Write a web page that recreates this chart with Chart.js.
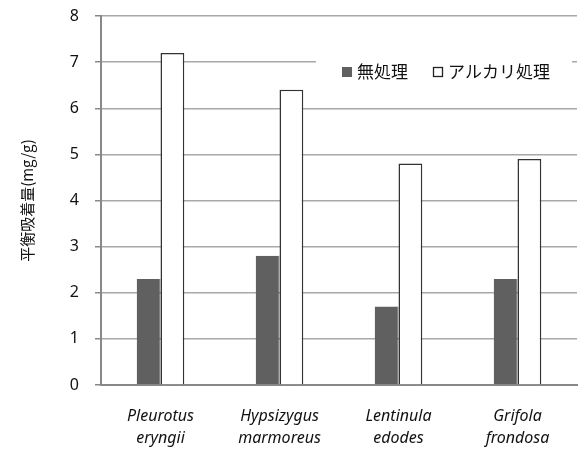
<!DOCTYPE html>
<html>
<head>
<meta charset="utf-8">
<script src="https://cdn.jsdelivr.net/npm/chart.js@4"></script>
<style>
  html, body { margin: 0; padding: 0; background: #fff; }
  #wrap { width: 578px; height: 449px; }
</style>
</head>
<body>
<div id="wrap"><canvas id="c" width="578" height="449"></canvas></div>
<script>
var categories = [
  ["Pleurotus", "eryngii"],
  ["Hypsizygus", "marmoreus"],
  ["Lentinula", "edodes"],
  ["Grifola", "frondosa"]
];
var seriesNames = ["無処理", "アルカリ処理"];
var untreated = [2.3, 2.8, 1.7, 2.3];
var alkali = [7.2, 6.4, 4.8, 4.9];
var yTicks = [0, 1, 2, 3, 4, 5, 6, 7, 8];

var fontFam = "'Noto Sans', 'Noto Sans CJK JP', sans-serif";

// 凡例（グラフ内に白背景で描く）
var innerLegend = {
  id: 'innerLegend',
  afterDraw: function(chart) {
    var ctx = chart.ctx;
    ctx.save();
    ctx.fillStyle = '#fff';
    ctx.fillRect(316, 50, 256, 42);
    ctx.font = "17px 'Noto Sans CJK JP', sans-serif";
    ctx.textBaseline = 'middle';
    var x = 342, y = 72;
    chart.data.datasets.forEach(function(ds, i) {
      ctx.fillStyle = ds.backgroundColor;
      ctx.fillRect(x, y - 5, 10, 10);
      if (ds.backgroundColor === '#ffffff') {
        ctx.strokeStyle = '#222';
        ctx.lineWidth = 1.3;
        ctx.strokeRect(x + 0.5, y - 4.5, 9, 9);
      }
      ctx.fillStyle = '#111';
      ctx.fillText(ds.label, x + 15, y);
      x += 15 + ctx.measureText(ds.label).width + 25;
    });
    ctx.restore();
  }
};

new Chart(document.getElementById('c'), {
  type: 'bar',
  data: {
    labels: categories,
    datasets: [{
      label: seriesNames[0],
      data: untreated,
      backgroundColor: '#606060',
      borderColor: '#4a4a4a',
      borderWidth: { left: 0, right: 1, top: 0, bottom: 0 },
      borderSkipped: false
    }, {
      label: seriesNames[1],
      data: alkali,
      backgroundColor: '#ffffff',
      borderColor: '#333333',
      borderWidth: { left: 1.5, right: 1.5, top: 1.5, bottom: 0 },
      borderSkipped: false
    }]
  },
  options: {
    responsive: false,
    animation: false,
    devicePixelRatio: 1,
    layout: { padding: { top: 0, right: 1, left: 0, bottom: 0 } },
    categoryPercentage: 0.4,
    barPercentage: 1.0,
    plugins: {
      legend: { display: false },
      tooltip: { enabled: false }
    },
    scales: {
      x: {
        grid: { display: false, drawTicks: false },
        border: { color: '#888', width: 2 },
        ticks: {
          color: '#111',
          font: { family: fontFam, size: 16, style: 'italic', lineHeight: 1.4 },
          padding: 20,
          maxRotation: 0
        },
        afterFit: function(s) { s.height = 64; }
      },
      y: {
        min: 0,
        max: 8,
        afterBuildTicks: function(s) {
          s.ticks = yTicks.map(function(v) { return { value: v }; });
        },
        grid: { color: '#a8a8a8', lineWidth: 1.5, tickLength: 6, tickColor: '#888' },
        border: { color: '#888', width: 2 },
        ticks: {
          color: '#111',
          font: { family: fontFam, size: 16 },
          padding: 16
        },
        title: {
          display: true,
          text: '平衡吸着量(mg/g)',
          color: '#111',
          font: { family: "'Noto Sans CJK JP', sans-serif", size: 15 },
          padding: { top: 18, bottom: 0 }
        },
        afterFit: function(s) {
          s.width = 101;
          s.paddingTop = 16;
        }
      }
    }
  },
  plugins: [innerLegend]
});
</script>
</body>
</html>
